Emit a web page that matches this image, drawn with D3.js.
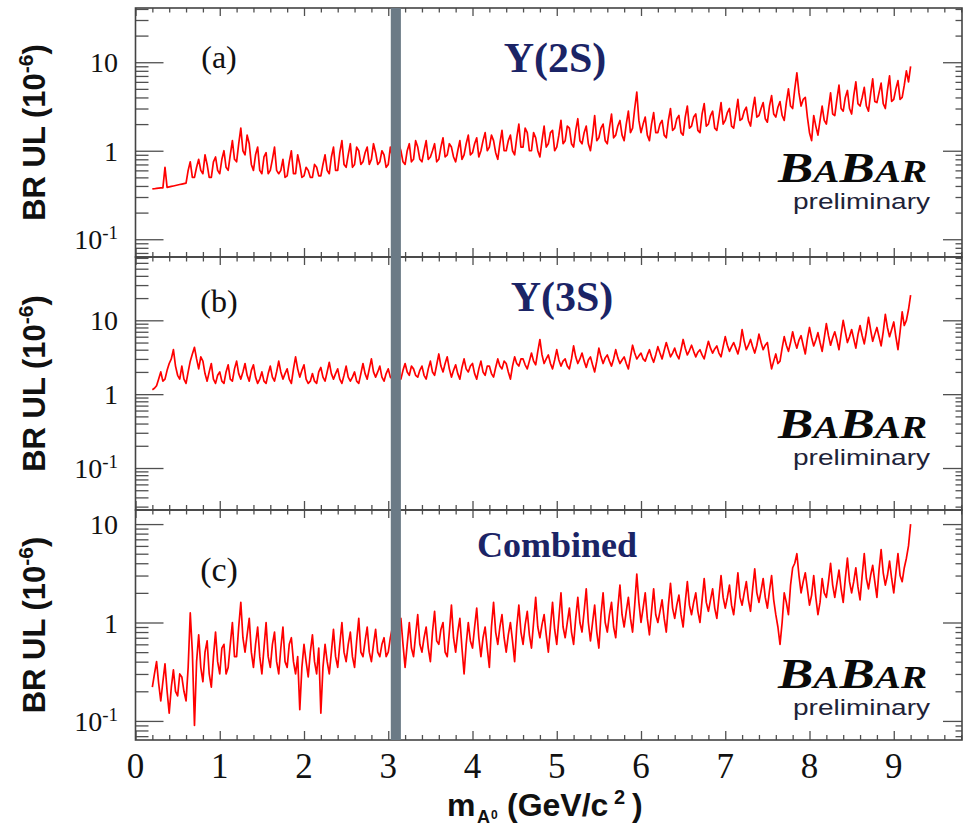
<!DOCTYPE html>
<html>
<head>
<meta charset="utf-8">
<script src="https://cdn.jsdelivr.net/npm/d3@7"></script>
<style>
  body { margin: 0; background: #fff; }
  svg { display: block; }
</style>
</head>
<body>
<svg id="chart" width="967" height="829"></svg>
<script>
// Mass scan grid (GeV/c^2): first point and spacing of the upper-limit scan
const scanStart = 0.20;
const scanStep = 0.025;

// 90% CL upper limits on the branching fraction (units of 1e-6)
const ul2S = [
  0.37,0.372,0.375,0.378,0.38,0.38,0.65,0.385,0.39,0.395,0.40,0.405,0.41,0.415,0.42,0.425,0.43,0.6,0.75,0.5,
  0.5,0.65,0.8,0.6,0.55,0.9,0.7,0.5,0.5,0.75,0.85,0.6,0.55,0.8,1.0,0.65,0.6,0.9,1.3,0.8,
  0.75,1.2,1.8,1.0,0.9,1.5,1.2,0.7,0.6,0.9,1.1,0.6,0.55,0.85,0.95,0.55,0.6,0.8,1.1,0.6,
  0.55,0.6,0.8,0.5,0.52,0.75,1.0,0.55,0.55,0.9,0.7,0.5,0.52,0.65,0.6,0.5,0.5,0.7,0.65,0.52,
  0.52,0.7,0.9,0.6,0.55,0.85,1.1,0.6,0.6,0.95,1.3,0.7,0.65,0.9,1.2,0.65,0.7,1.1,1.0,0.7,
  0.75,0.95,1.1,0.7,0.8,1.2,0.95,0.7,0.75,1.0,0.9,0.65,0.7,1.1,0.85,0.7,0.75,1.2,1.0,0.75,
  0.7,1.0,1.2,0.75,0.8,1.3,1.1,0.8,0.75,1.0,1.3,0.8,0.85,1.0,1.2,0.75,0.8,1.1,1.4,0.85,
  0.9,1.2,1.1,0.85,0.75,1.0,1.3,0.8,0.9,1.2,1.5,0.9,0.95,1.2,1.4,0.85,1.0,1.3,1.6,1.0,
  1.1,1.5,1.3,0.95,0.8,1.2,1.7,1.0,1.0,1.3,1.5,1.0,0.9,1.4,2.0,1.1,1.1,1.8,1.6,1.0,
  1.0,1.6,1.4,1.0,0.85,1.3,1.9,1.1,1.2,1.6,1.7,1.0,1.1,1.5,2.2,1.2,1.3,1.9,1.8,1.2,
  1.1,1.7,2.3,1.3,1.2,1.6,1.9,1.2,1.0,1.5,2.5,1.3,1.4,1.8,2.0,1.3,1.2,1.8,2.6,1.4,
  1.5,1.9,2.2,1.5,1.3,2.0,2.8,1.6,1.8,3.0,4.6,2.2,1.6,2.0,2.4,1.5,1.3,2.0,2.7,1.6,
  1.6,2.0,2.2,1.5,1.4,2.2,3.0,1.7,1.8,2.3,2.5,1.6,1.5,2.4,3.2,1.8,1.9,2.4,2.6,1.7,
  1.6,2.6,3.4,1.9,2.0,2.5,2.8,1.8,1.7,2.4,3.5,2.0,2.2,2.7,3.0,1.9,1.8,2.6,3.8,2.2,
  2.3,2.8,3.1,2.2,1.9,2.9,4.0,2.4,2.5,3.0,3.5,2.3,2.1,3.2,4.2,2.6,2.4,3.1,3.6,2.5,
  2.2,3.5,5.0,3.2,3.0,5.0,7.6,4.5,3.2,3.8,4.0,2.4,1.6,1.3,2.5,1.9,1.5,2.2,3.2,2.2,
  2.0,3.0,4.5,2.6,2.5,3.8,5.5,3.0,2.8,4.0,4.8,3.0,2.6,4.2,6.0,3.4,3.2,4.0,5.2,3.2,
  2.8,4.4,6.5,3.6,3.5,4.5,5.8,3.4,3.0,4.8,7.0,3.6,3.8,5.0,6.2,3.8,4.0,5.5,8.0,6.0,
  9.0
];

const ul3S = [
  1.15,1.2,1.3,1.6,2.0,1.5,1.6,2.1,2.6,3.0,4.0,2.4,1.8,1.6,2.4,1.6,1.4,2.0,2.8,3.5,
  4.3,3.0,2.2,3.2,2.8,1.9,1.5,2.0,2.6,1.6,1.4,1.8,2.0,1.5,1.4,2.0,2.5,1.6,1.5,2.2,
  2.8,1.9,1.6,2.0,2.6,1.8,1.5,2.1,2.5,1.7,1.4,1.6,2.0,1.5,1.4,1.9,2.4,1.7,1.5,2.0,
  2.8,2.0,1.6,1.9,2.2,1.6,1.4,2.2,3.2,2.2,1.7,2.1,2.5,1.6,1.4,1.5,1.9,1.5,1.4,2.0,
  2.3,1.7,1.5,2.0,2.7,1.9,1.6,1.9,2.2,1.6,1.4,1.8,2.4,1.7,1.5,1.7,2.0,1.5,1.4,1.9,
  2.6,1.9,1.6,2.2,3.0,2.0,1.7,2.0,2.4,1.7,1.5,1.9,2.2,1.7,1.6,1.8,2.0,1.6,1.6,2.1,
  2.6,2.0,1.8,2.4,2.2,1.8,1.7,2.1,2.4,1.8,1.6,2.2,2.8,2.0,1.8,2.5,3.5,2.4,2.0,2.6,
  3.2,2.2,1.7,2.1,2.5,1.9,1.6,2.3,3.0,2.2,2.0,2.4,2.6,1.9,1.6,2.2,2.8,2.0,1.8,2.4,
  2.4,1.9,1.7,2.3,3.0,2.4,2.2,2.8,2.6,2.0,1.6,2.4,3.2,2.6,2.4,3.0,3.0,2.5,2.2,2.8,
  3.6,2.8,2.5,3.8,5.5,3.4,2.6,3.0,3.4,2.6,2.2,2.9,4.0,2.9,2.4,2.8,3.0,2.4,2.2,3.0,
  4.5,3.2,2.6,3.0,3.6,2.8,2.3,2.9,3.2,2.5,2.0,2.8,4.2,3.2,2.6,3.1,3.4,2.8,2.4,3.0,
  4.0,3.1,2.6,2.9,3.2,2.6,2.2,3.2,4.6,3.6,3.0,3.3,3.6,3.0,2.8,3.4,4.0,3.2,2.7,3.4,
  4.4,3.6,3.0,3.9,5.0,4.0,3.2,3.6,4.2,3.4,3.0,4.0,5.5,4.2,3.4,3.9,4.6,3.8,3.2,3.7,
  4.0,3.4,3.0,4.0,5.2,4.2,3.6,4.1,4.5,3.6,3.2,4.4,6.0,4.6,3.8,4.4,5.0,4.2,3.5,4.6,
  7.5,5.2,4.0,4.6,5.5,4.4,3.6,4.6,6.5,5.0,4.0,4.6,5.0,3.2,2.2,2.8,3.5,2.6,2.8,4.2,
  6.0,4.6,3.8,5.0,7.0,5.2,4.2,5.4,6.2,4.6,3.5,5.6,8.0,5.8,4.5,5.4,6.8,5.0,3.8,5.8,
  9.0,6.2,4.6,5.8,7.0,5.4,4.0,6.5,10.0,7.0,5.0,6.0,7.5,5.6,4.2,6.4,8.5,6.2,4.8,7.0,
  11.0,7.5,5.2,6.5,8.0,6.0,4.5,7.0,12.0,8.0,6.0,7.5,9.5,6.0,4.0,7.0,13.0,8.5,10.0,14.0,
  22.0
];

const ulCombined = [
  0.22,0.3,0.40,0.24,0.16,0.25,0.38,0.2,0.12,0.22,0.33,0.2,0.18,0.3,0.28,0.2,0.16,0.35,1.25,0.5,
  0.09,0.4,0.75,0.35,0.25,0.5,0.65,0.3,0.22,0.45,0.8,0.4,0.3,0.55,0.6,0.3,0.35,0.6,1.0,0.45,
  0.45,0.9,1.6,0.7,0.5,0.75,1.1,0.5,0.35,0.6,0.9,0.45,0.3,0.55,1.0,0.45,0.35,0.6,0.8,0.4,
  0.3,0.55,0.9,0.4,0.35,0.6,0.7,0.4,0.3,0.45,0.13,0.35,0.6,0.4,0.28,0.5,0.75,0.4,0.3,0.55,
  0.12,0.35,0.6,0.4,0.3,0.5,0.85,0.45,0.35,0.6,1.0,0.5,0.4,0.6,0.8,0.45,0.35,0.65,1.1,0.5,
  0.45,0.65,0.9,0.5,0.4,0.6,0.85,0.5,0.45,0.6,0.7,0.45,0.5,0.7,0.9,0.55,0.55,0.8,1.1,0.6,
  0.35,0.6,1.0,0.55,0.45,0.75,1.2,0.6,0.5,0.7,0.9,0.55,0.4,0.8,1.3,0.65,0.6,0.85,1.0,0.5,
  0.45,0.8,1.5,0.7,0.5,0.8,1.1,0.55,0.3,0.6,1.0,0.65,0.55,0.9,1.4,0.7,0.45,0.7,0.9,0.55,
  0.35,0.9,1.6,0.8,0.6,0.9,1.2,0.7,0.5,0.75,1.0,0.65,0.4,0.9,1.5,0.8,0.6,0.95,1.3,0.75,
  0.55,1.0,1.8,0.9,0.7,0.95,1.2,0.75,0.5,0.9,1.6,0.85,0.6,1.1,2.0,0.9,0.7,1.0,1.4,0.8,
  0.6,1.1,1.8,1.0,0.8,1.3,2.2,1.0,0.65,1.0,1.5,0.8,0.55,1.2,2.0,1.0,0.8,1.2,1.6,0.9,
  0.7,1.4,2.4,1.2,0.9,1.3,1.8,1.1,0.8,1.5,3.1,1.6,1.0,1.4,2.0,1.1,0.75,1.3,2.2,1.2,
  1.0,1.3,1.7,1.1,0.8,1.5,2.5,1.4,1.1,1.5,1.9,1.2,0.9,1.6,2.6,1.5,1.2,1.6,2.0,1.3,
  1.0,1.7,2.8,1.6,1.3,1.7,2.2,1.4,1.1,1.8,3.0,1.8,1.4,1.8,2.4,1.5,1.2,1.9,3.2,1.8,
  1.5,2.0,2.6,1.7,1.3,2.2,3.5,2.0,1.6,2.1,2.8,1.8,1.4,2.1,3.0,1.7,1.2,0.9,0.6,1.0,
  2.0,1.6,1.2,2.4,3.6,4.0,5.0,3.0,2.0,2.6,3.2,2.2,1.5,1.9,3.0,1.8,1.2,1.6,2.8,2.0,
  1.8,2.6,4.0,2.4,1.8,2.5,3.4,2.2,1.6,2.8,4.5,2.6,2.0,2.6,3.6,2.3,1.7,3.0,5.0,2.8,
  2.2,3.0,3.8,2.6,1.8,3.4,5.5,3.2,2.4,3.0,4.2,2.8,2.0,3.2,5.0,3.0,2.6,3.6,4.5,6.0,
  10.0
];

const panelTags = ["(a)", "(b)", "(c)"];
const panelTitles = ["\u03A5(2S)", "\u03A5(3S)", "Combined"];
const xTickLabels = ["0", "1", "2", "3", "4", "5", "6", "7", "8", "9"];
const yTickLabels = [
  { value: 10, base: "10", sup: "" },
  { value: 1, base: "1", sup: "" },
  { value: 0.1, base: "10", sup: "-1" }
];
// J/psi region excluded from the scan (GeV/c^2)
const vetoBand = [3.03, 3.15];

const svg = d3.select("#chart");
const left = 135.5, right = 962;
const x = d3.scaleLinear().domain([0, 9.81]).range([left, right]);

const panels = [
  { values: ul2S, top: 8, bottom: 257, yDomain: [0.063, 41],
    tagY: 68, tagSize: 32, titleX: 555, titleY: 72, titleSize: 42, logoY: 182, prelimY: 209 },
  { values: ul3S, top: 257, bottom: 510, yDomain: [0.027, 72],
    tagY: 312, tagSize: 32, titleX: 562, titleY: 311, titleSize: 42, logoY: 438, prelimY: 465 },
  { values: ulCombined, top: 510, bottom: 740, yDomain: [0.064, 13.9],
    tagY: 581, tagSize: 34, titleX: 557, titleY: 557, titleSize: 36, logoY: 688, prelimY: 715 }
];

const xMajor = d3.range(0, 10);
const xMinor = d3.range(0, 50).filter(i => i % 5 !== 0).map(i => i * 0.2);

function styleAxis(g) {
  g.select(".domain").remove();
  g.selectAll("text").remove();
  g.selectAll("line").attr("stroke", "#505050").attr("stroke-width", 1.3);
}

const curve = svg.append("g");
const axes = svg.append("g");
const labels = svg.append("g");

panels.forEach((p, k) => {
  const y = d3.scaleLog().domain(p.yDomain).range([p.bottom, p.top]);

  const clipId = "panel-clip-" + k;
  svg.append("clipPath").attr("id", clipId)
    .append("rect")
    .attr("x", left).attr("y", p.top)
    .attr("width", right - left).attr("height", p.bottom - p.top);

  // upper-limit scan
  const line = d3.line()
    .x((d, i) => x(scanStart + i * scanStep))
    .y(d => y(d));
  curve.append("path")
    .datum(p.values)
    .attr("clip-path", `url(#${clipId})`)
    .attr("fill", "none")
    .attr("stroke", "#ff0000")
    .attr("stroke-width", 1.7)
    .attr("stroke-linejoin", "round")
    .attr("d", line);

  // log-axis tick positions inside the panel range
  const yMajor = [], yMinor = [];
  for (let n = -2; n <= 2; n++) {
    for (let m = 1; m <= 9; m++) {
      const v = +(m * Math.pow(10, n)).toPrecision(3);
      if (v < p.yDomain[0] || v > p.yDomain[1]) continue;
      (m === 1 ? yMajor : yMinor).push(v);
    }
  }

  // x ticks (bottom pointing up, top pointing down)
  axes.append("g").attr("transform", `translate(0,${p.bottom})`)
    .call(d3.axisBottom(x).tickValues(xMajor).tickSize(-9)).call(styleAxis);
  axes.append("g").attr("transform", `translate(0,${p.bottom})`)
    .call(d3.axisBottom(x).tickValues(xMinor).tickSize(-5)).call(styleAxis);
  axes.append("g").attr("transform", `translate(0,${p.top})`)
    .call(d3.axisTop(x).tickValues(xMajor).tickSize(-8)).call(styleAxis);
  axes.append("g").attr("transform", `translate(0,${p.top})`)
    .call(d3.axisTop(x).tickValues(xMinor).tickSize(-4.5)).call(styleAxis);

  // y ticks (left long, right short)
  axes.append("g").attr("transform", `translate(${left},0)`)
    .call(d3.axisLeft(y).tickValues(yMajor).tickSize(-28)).call(styleAxis);
  axes.append("g").attr("transform", `translate(${left},0)`)
    .call(d3.axisLeft(y).tickValues(yMinor).tickSize(-13)).call(styleAxis);
  axes.append("g").attr("transform", `translate(${right},0)`)
    .call(d3.axisRight(y).tickValues(yMajor).tickSize(-19)).call(styleAxis);
  axes.append("g").attr("transform", `translate(${right},0)`)
    .call(d3.axisRight(y).tickValues(yMinor).tickSize(-6.5)).call(styleAxis);

  // frame
  axes.append("rect")
    .attr("x", left).attr("y", p.top)
    .attr("width", right - left).attr("height", p.bottom - p.top)
    .attr("fill", "none").attr("stroke", "#444").attr("stroke-width", 1.6);

  // y tick labels
  yTickLabels.forEach(t => {
    const txt = labels.append("text")
      .attr("x", 118).attr("y", y(t.value))
      .attr("dy", "0.36em")
      .attr("text-anchor", "end")
      .attr("font-family", "Liberation Serif, Times New Roman, serif")
      .attr("font-size", 28)
      .attr("fill", "#111")
      .text(t.base);
    if (t.sup) {
      txt.append("tspan").attr("font-size", 19).attr("dy", "-0.55em").text(t.sup);
    }
  });

  // y axis title
  const yt = labels.append("text")
    .attr("transform", `translate(45,${(p.top + p.bottom) / 2}) rotate(-90)`)
    .attr("text-anchor", "middle")
    .attr("font-family", "Liberation Sans, Arial, sans-serif")
    .attr("font-weight", "bold")
    .attr("font-size", 31)
    .attr("fill", "#111")
    .text("BR UL (10");
  yt.append("tspan").attr("font-size", 21).attr("dy", -12).text("-6");
  yt.append("tspan").attr("dy", 12).text(")");

  // panel tag
  labels.append("text")
    .attr("x", 219).attr("y", p.tagY)
    .attr("text-anchor", "middle")
    .attr("font-family", "Liberation Serif, Times New Roman, serif")
    .attr("font-size", p.tagSize)
    .attr("fill", "#111")
    .text(panelTags[k]);

  // sample title
  labels.append("text")
    .attr("x", p.titleX).attr("y", p.titleY)
    .attr("text-anchor", "middle")
    .attr("font-family", "Liberation Serif, Times New Roman, serif")
    .attr("font-weight", "bold")
    .attr("font-size", p.titleSize)
    .attr("fill", "#1b2466")
    .text(panelTitles[k]);

  // experiment logo
  const logo = labels.append("text")
    .attr("x", 778).attr("y", p.logoY)
    .attr("font-family", "Liberation Serif, Times New Roman, serif")
    .attr("font-weight", "bold")
    .attr("font-style", "italic")
    .attr("fill", "#0a0a0a")
    .attr("textLength", 149)
    .attr("lengthAdjust", "spacingAndGlyphs");
  [["B", 42], ["A", 31], ["B", 42], ["A", 31], ["R", 31]].forEach(([c, s]) => {
    logo.append("tspan").attr("font-size", s).text(c);
  });
  labels.append("text")
    .attr("x", 793).attr("y", p.prelimY)
    .attr("font-family", "Liberation Sans, Arial, sans-serif")
    .attr("font-size", 22)
    .attr("fill", "#1e2338")
    .attr("textLength", 137)
    .attr("lengthAdjust", "spacingAndGlyphs")
    .text("preliminary");
});

// excluded J/psi band across all panels
svg.append("rect")
  .attr("x", x(vetoBand[0])).attr("y", panels[0].top)
  .attr("width", x(vetoBand[1]) - x(vetoBand[0]))
  .attr("height", panels[2].bottom - panels[0].top)
  .attr("fill", "#6b7a86");

// x tick labels under the bottom panel
xTickLabels.forEach((t, i) => {
  labels.append("text")
    .attr("x", x(i)).attr("y", 778)
    .attr("text-anchor", "middle")
    .attr("font-family", "Liberation Serif, Times New Roman, serif")
    .attr("font-size", 35)
    .attr("fill", "#111")
    .text(t);
});

// x axis title: m_{A^0} (GeV/c^2)
const xt = labels.append("text")
  .attr("y", 816)
  .attr("font-family", "Liberation Sans, Arial, sans-serif")
  .attr("font-weight", "bold")
  .attr("font-size", 32)
  .attr("fill", "#111");
xt.append("tspan").attr("x", 447).text("m");
xt.append("tspan").attr("x", 477).attr("dy", 7).attr("font-size", 18).text("A");
xt.append("tspan").attr("x", 491).attr("dy", -4).attr("font-size", 12).text("0");
xt.append("tspan").attr("x", 507).attr("dy", -3).attr("font-size", 32).text("(GeV/c");
xt.append("tspan").attr("x", 614).attr("dy", -12).attr("font-size", 20).text("2");
xt.append("tspan").attr("x", 632).attr("dy", 12).attr("font-size", 32).text(")");
</script>
</body>
</html>
